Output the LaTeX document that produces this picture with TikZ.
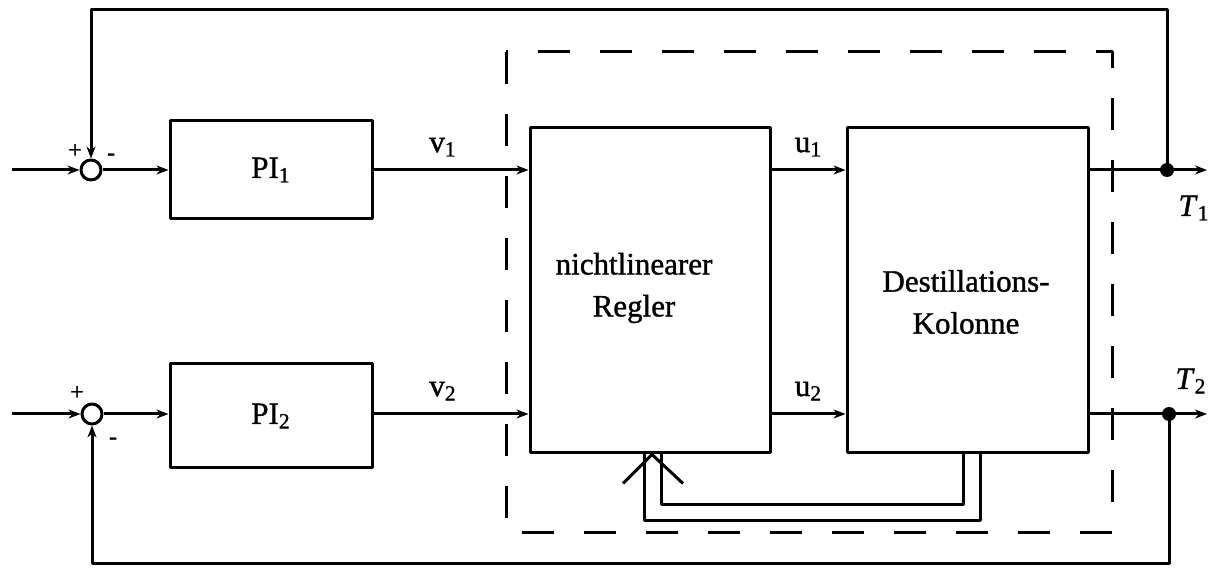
\documentclass[tikz,border=0pt]{standalone}
\usepackage{fontspec}
\setmainfont[FakeBold=1.2,AutoFakeBold=1.2]{Liberation Serif}
\usetikzlibrary{arrows.meta}
\tikzset{
  block/.style={draw, inner sep=0pt, align=center},
  sum/.style={draw, circle, minimum size=10pt, inner sep=0pt},
  sign/.style={font=\fontsize{12}{12}\selectfont\bfseries, inner sep=0pt},
  lab/.style={inner sep=1pt, align=center}
}
\begin{document}
\begin{tikzpicture}[x=0.5pt, y=-0.5pt, line width=1.5pt, line join=round, >={Stealth[length=6pt,width=4.5pt]}, font=\fontsize{15.5}{21}\selectfont\bfseries]
	\useasboundingbox (0,0) rectangle (1210,571);
	% Summierstellen und Bloecke
	\node[sum] (sum1) at (91,170) {};
	\node[sum] (sum2) at (92,414) {};
	\node[block, minimum width=101pt, minimum height=49pt] (pi1) at (271,170) {PI\textsubscript{1}};
	\node[block, minimum width=101pt, minimum height=52pt] (pi2) at (271,416) {PI\textsubscript{2}};
	\node[block, minimum width=120pt, minimum height=162.5pt] (regler) at (650,290.5) {};
	\node[block, minimum width=120.5pt, minimum height=162.5pt] (kolonne) at (967.5,290.5) {};
	\node[lab] (reglertext) at (634,288) {nichtlinearer\\Regler};
	\node[lab] (kolonnetext) at (966,302) {Destillations-\\Kolonne};
	% gestrichelter Rahmen
	\draw[dash pattern=on 16pt off 15pt] (506,52) rectangle (1112,532);
	% Ein- und Ausgaenge
	\coordinate (in1) at (12,170);
	\coordinate (in2) at (12,414);
	\coordinate (out1) at (1207,170);
	\coordinate (out2) at (1207,414);
	\coordinate (dot1) at (1167,170);
	\coordinate (dot2) at (1169,414);
	\draw[->] (in1) -- (sum1);
	\draw[->] (in2) -- (sum2);
	\draw[->] (sum1) -- (sum1 -| pi1.west);
	\draw[->] (sum2) -- (sum2 -| pi2.west);
	\draw[->] (pi1.east |- sum1) -- node[lab, above=5pt, xshift=-4pt]{v\textsubscript{1}} (regler.west |- sum1);
	\draw[->] (pi2.east |- sum2) -- node[lab, above=5pt, xshift=-4pt]{v\textsubscript{2}} (regler.west |- sum2);
	\draw[->] (regler.east |- sum1) -- node[lab, above=5pt]{u\textsubscript{1}} (kolonne.west |- sum1);
	\draw[->] (regler.east |- sum2) -- node[lab, above=5pt]{u\textsubscript{2}} (kolonne.west |- sum2);
	\draw[->] (kolonne.east |- out1) -- (out1);
	\draw[->] (kolonne.east |- out2) -- (out2);
	\fill (dot1) circle (3.5pt);
	\fill (dot2) circle (3.5pt);
	\node[lab] (t1) at (1194,208) {\textit{T}\textsubscript{1}};
	\node[lab] (t2) at (1191,381) {\textit{T}\textsubscript{2}};
	% Rueckfuehrungen
	\draw[->] (dot1) -- ++(0,-160) -| (sum1.north);
	\draw[->] (dot2) -- ++(0,149) -| (sum2.south);
	\node[sign] at (75,151) {+};
	\node[sign] at (111,157) {-};
	\node[sign] at (77,393) {+};
	\node[sign] at (113,441) {-};
	% interne Rueckfuehrung (Doppellinie)
	\coordinate (tip) at ([xshift=1pt]regler.south);
	\draw ([xshift=6.25pt]kolonne.south) -- ++(0,66) -| ([xshift=-3pt]regler.south);
	\draw ([xshift=-2.25pt]kolonne.south) -- ++(0,50) -| ([xshift=5.5pt]regler.south);
	\draw ([shift={(-29,29)}]tip) -- (tip) -- ([shift={(31,29)}]tip);
\end{tikzpicture}
\end{document}
